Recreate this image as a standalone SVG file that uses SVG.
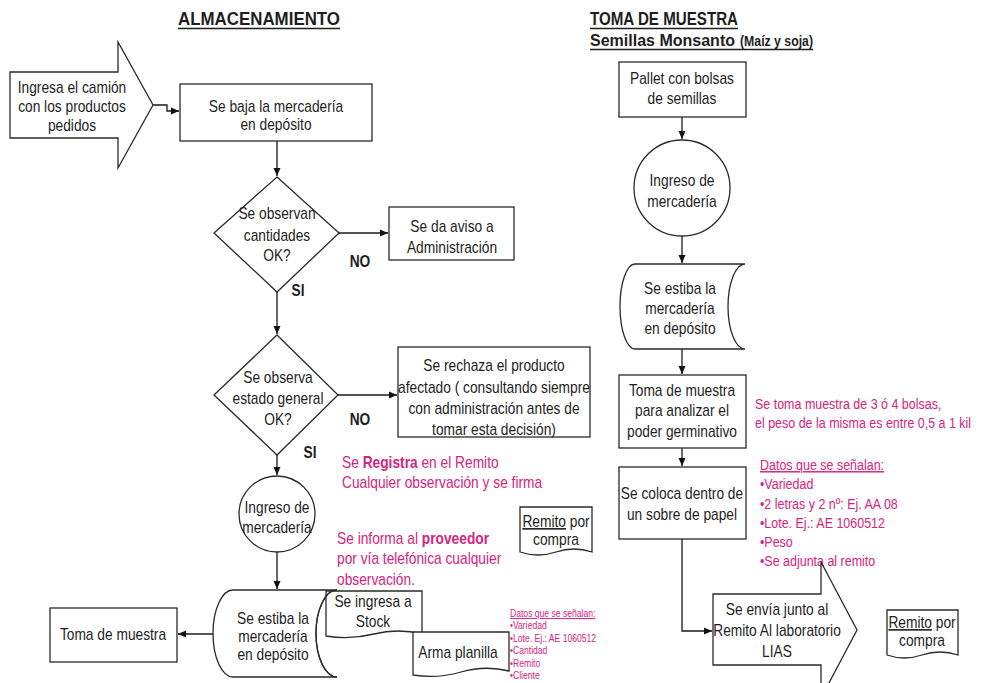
<svg xmlns="http://www.w3.org/2000/svg" width="987" height="683" viewBox="0 0 987 683">
  <defs>
    <marker id="arr" markerUnits="userSpaceOnUse" markerWidth="9" markerHeight="8" refX="8" refY="4" orient="auto">
      <path d="M0,0.5 L8,4 L0,7.5 Z" fill="#111"/>
    </marker>
  </defs>
  <style>
    .shape{fill:#fff;stroke:#2a2a2a;stroke-width:1.3}
    .edge{fill:none;stroke:#2a2a2a;stroke-width:1.3}
    .line{fill:none;stroke:#1a1a1a;stroke-width:1.3;marker-end:url(#arr)}
    .t{font-family:"Liberation Sans",Arial,sans-serif;font-size:16px;fill:#1e1e1e;text-anchor:middle}
    .p{font-family:"Liberation Sans",Arial,sans-serif;font-size:16px;fill:#d4247e}
    .ps{font-family:"Liberation Sans",Arial,sans-serif;font-size:14.5px;fill:#d4247e}
    .px{font-family:"Liberation Sans",Arial,sans-serif;font-size:10px;fill:#d4247e}
    .h{font-family:"Liberation Sans",Arial,sans-serif;font-weight:bold;fill:#1e1e1e}
    .b{font-weight:bold}
    .u{text-decoration:underline}
    .ul{stroke:#1e1e1e;stroke-width:1.6}
  </style>
  <rect width="987" height="683" fill="#fff"/>

  <!-- headings -->
  <g id="titles">
    <text class="h" x="178" y="25" font-size="19" textLength="162" lengthAdjust="spacingAndGlyphs">ALMACENAMIENTO</text>
    <line class="ul" x1="178" y1="28.5" x2="340" y2="28.5"/>
    <text class="h" x="590" y="25" font-size="18" textLength="148" lengthAdjust="spacingAndGlyphs">TOMA DE MUESTRA</text>
    <line class="ul" x1="590" y1="28.5" x2="738" y2="28.5"/>
    <text class="h" x="590" y="46" font-size="17" textLength="145" lengthAdjust="spacingAndGlyphs">Semillas Monsanto</text>
    <text class="h" x="740" y="46" font-size="14" textLength="73" lengthAdjust="spacingAndGlyphs">(Maíz y soja)</text>
    <line class="ul" x1="590" y1="49.5" x2="813" y2="49.5"/>
  </g>

  <!-- connectors -->
  <g id="connectors">
    <path class="line" d="M153,105 H167 V111 H179"/>
    <path class="line" d="M277,141 V176"/>
    <path class="line" d="M339,233 H388"/>
    <path class="line" d="M277,292 V334"/>
    <path class="line" d="M338,395 H397"/>
    <path class="line" d="M277,455 V475"/>
    <path class="line" d="M277,552 V589"/>
    <path class="line" d="M213,634 H178"/>
    <path class="line" d="M682,117 V139"/>
    <path class="line" d="M682,236 V263"/>
    <path class="line" d="M682,349 V374"/>
    <path class="line" d="M682,448 V466"/>
    <path class="line" d="M682,539 V631 H712"/>
  </g>

  <!-- storage flow -->
  <g id="n-camion">
    <polygon class="shape" points="10,72 118,72 118,42 153,105 118,168 118,138 10,138"/>
    <text class="t" transform="translate(72,0) scale(0.86 1)"><tspan x="0" y="93">Ingresa el camión</tspan><tspan x="0" y="112">con los productos</tspan><tspan x="0" y="131">pedidos</tspan></text>
  </g>

  <g id="n-baja">
    <rect class="shape" x="180" y="84" width="192" height="57"/>
    <text class="t" transform="translate(276,0) scale(0.86 1)"><tspan x="0" y="112">Se baja la mercadería</tspan><tspan x="0" y="130">en depósito</tspan></text>
  </g>

  <g id="n-cantidades">
    <polygon class="shape" points="277,177 339,233 277,292 214,233"/>
    <text class="t" transform="translate(277,0) scale(0.86 1)"><tspan x="0" y="219">Se observan</tspan><tspan x="0" y="241">cantidades</tspan><tspan x="0" y="261">OK?</tspan></text>
  </g>

  <g id="n-aviso">
    <rect class="shape" x="389" y="207" width="125" height="53"/>
    <text class="t" transform="translate(452,0) scale(0.86 1)"><tspan x="0" y="232">Se da aviso a</tspan><tspan x="0" y="253">Administración</tspan></text>
  </g>

  <g id="n-estado">
    <polygon class="shape" points="277,335 338,395 277,455 214,395"/>
    <text class="t" transform="translate(278,0) scale(0.86 1)"><tspan x="0" y="383">Se observa</tspan><tspan x="0" y="404">estado general</tspan><tspan x="0" y="425">OK?</tspan></text>
  </g>

  <g id="n-rechazo">
    <rect class="shape" x="398" y="347" width="192" height="90"/>
    <text class="t" transform="translate(494,0) scale(0.86 1)"><tspan x="0" y="371">Se rechaza el producto</tspan><tspan x="0" y="393">afectado ( consultando siempre</tspan><tspan x="0" y="414">con administración antes de</tspan><tspan x="0" y="435">tomar esta decisión)</tspan></text>
  </g>

  <g id="labels">
    <text class="t b" transform="translate(360,267) scale(0.86 1)">NO</text>
    <text class="t b" transform="translate(298,296) scale(0.86 1)">SI</text>
    <text class="t b" transform="translate(360,425) scale(0.86 1)">NO</text>
    <text class="t b" transform="translate(310,458) scale(0.86 1)">SI</text>
  </g>

  <g id="notes-left">
    <text class="p" transform="translate(342,0) scale(0.86 1)"><tspan x="0" y="468">Se <tspan class="b">Registra</tspan> en el Remito</tspan><tspan x="0" y="488">Cualquier observación y se firma</tspan></text>
    <text class="p" transform="translate(337,0) scale(0.86 1)"><tspan x="0" y="544">Se informa al <tspan class="b">proveedor</tspan></tspan><tspan x="0" y="564">por vía telefónica cualquier</tspan><tspan x="0" y="585">observación.</tspan></text>
    <text class="px" transform="translate(510,0) scale(0.86 1)"><tspan x="0" y="617" class="u">Datos que se señalan:</tspan><tspan x="0" y="629">•Variedad</tspan><tspan x="0" y="642">•Lote. Ej.: AE 1060512</tspan><tspan x="0" y="654">•Cantidad</tspan><tspan x="0" y="667">•Remito</tspan><tspan x="0" y="679">•Cliente</tspan></text>
  </g>

  <g id="n-ingreso">
    <circle class="shape" cx="277" cy="514" r="38"/>
    <text class="t" transform="translate(277,0) scale(0.86 1)"><tspan x="0" y="513">Ingreso de</tspan><tspan x="0" y="533">mercadería</tspan></text>
  </g>

  <g id="n-remito-1">
    <path class="shape" d="M520,507 H592 V552 Q574,546 556,552 T520,552 Z"/>
    <text class="t" transform="translate(556,0) scale(0.86 1)"><tspan x="0" y="527"><tspan class="u">Remito</tspan> por</tspan><tspan x="0" y="545">compra</tspan></text>
  </g>

  <g id="n-estiba">
    <path class="shape" d="M233,590 H337 A21,43.5 0 0 0 337,677 H233 A20,43.5 0 0 1 233,590 Z"/>
    <text class="t" transform="translate(273,0) scale(0.86 1)"><tspan x="0" y="624">Se estiba la</tspan><tspan x="0" y="642">mercadería</tspan><tspan x="0" y="660">en depósito</tspan></text>
  </g>

  <g id="n-stock">
    <path class="shape" d="M326,591 H422 V634 Q398,628 374,634 T326,636 Z"/>
    <path class="edge" d="M337,590 A21,43.5 0 0 0 337,677"/>
    <text class="t" transform="translate(373,0) scale(0.86 1)"><tspan x="0" y="607">Se ingresa a</tspan><tspan x="0" y="627">Stock</tspan></text>
  </g>

  <g id="n-planilla">
    <path class="shape" d="M413,632 H509 V671 Q485,665 461,672 T413,675 Z"/>
    <text class="t" transform="translate(458,658) scale(0.86 1)">Arma planilla</text>
  </g>

  <g id="n-toma-left">
    <rect class="shape" x="50" y="608" width="127" height="54"/>
    <text class="t" transform="translate(113,640) scale(0.86 1)">Toma de muestra</text>
  </g>

  <!-- sampling flow -->
  <g id="n-pallet">
    <rect class="shape" x="619" y="62" width="127" height="55"/>
    <text class="t" transform="translate(682,0) scale(0.86 1)"><tspan x="0" y="84">Pallet con bolsas</tspan><tspan x="0" y="104">de semillas</tspan></text>
  </g>

  <g id="n-ingreso-2">
    <circle class="shape" cx="682" cy="188" r="48"/>
    <text class="t" transform="translate(682,0) scale(0.86 1)"><tspan x="0" y="186">Ingreso de</tspan><tspan x="0" y="207">mercadería</tspan></text>
  </g>

  <g id="n-estiba-2">
    <path class="shape" d="M635,264 H745 A17,42.5 0 0 0 745,349 H635 A15,42.5 0 0 1 635,264 Z"/>
    <text class="t" transform="translate(680,0) scale(0.86 1)"><tspan x="0" y="294">Se estiba la</tspan><tspan x="0" y="314">mercadería</tspan><tspan x="0" y="334">en depósito</tspan></text>
  </g>

  <g id="n-muestra">
    <rect class="shape" x="619" y="375" width="127" height="73"/>
    <text class="t" transform="translate(682,0) scale(0.86 1)"><tspan x="0" y="396">Toma de muestra</tspan><tspan x="0" y="416">para analizar el</tspan><tspan x="0" y="437">poder germinativo</tspan></text>
  </g>

  <g id="notes-right">
    <text class="ps" transform="translate(755,0) scale(0.86 1)"><tspan x="0" y="409">Se toma muestra de 3 ó 4 bolsas,</tspan><tspan x="0" y="428">el peso de la misma es entre 0,5 a 1 kil</tspan></text>
    <text class="ps" transform="translate(760,0) scale(0.86 1)"><tspan x="0" y="470" class="u">Datos que se señalan:</tspan><tspan x="0" y="489">•Variedad</tspan><tspan x="0" y="509">•2 letras y 2 nº: Ej. AA 08</tspan><tspan x="0" y="528">•Lote. Ej.: AE 1060512</tspan><tspan x="0" y="547">•Peso</tspan><tspan x="0" y="566">•Se adjunta al remito</tspan></text>
  </g>

  <g id="n-sobre">
    <rect class="shape" x="619" y="467" width="127" height="72"/>
    <text class="t" transform="translate(682,0) scale(0.86 1)"><tspan x="0" y="499">Se coloca dentro de</tspan><tspan x="0" y="520">un sobre de papel</tspan></text>
  </g>

  <g id="n-envio">
    <polygon class="shape" points="713,594 821,594 821,562 857,630 821,698 821,665 713,665"/>
    <text class="t" transform="translate(777,0) scale(0.86 1)"><tspan x="0" y="615">Se envía junto al</tspan><tspan x="0" y="636">Remito Al laboratorio</tspan><tspan x="0" y="657">LIAS</tspan></text>
  </g>

  <g id="n-remito-2">
    <path class="shape" d="M887,610 H958 V655 Q940,649 922,655 T887,655 Z"/>
    <text class="t" transform="translate(922,0) scale(0.86 1)"><tspan x="0" y="628"><tspan class="u">Remito</tspan> por</tspan><tspan x="0" y="646">compra</tspan></text>
  </g>
</svg>
